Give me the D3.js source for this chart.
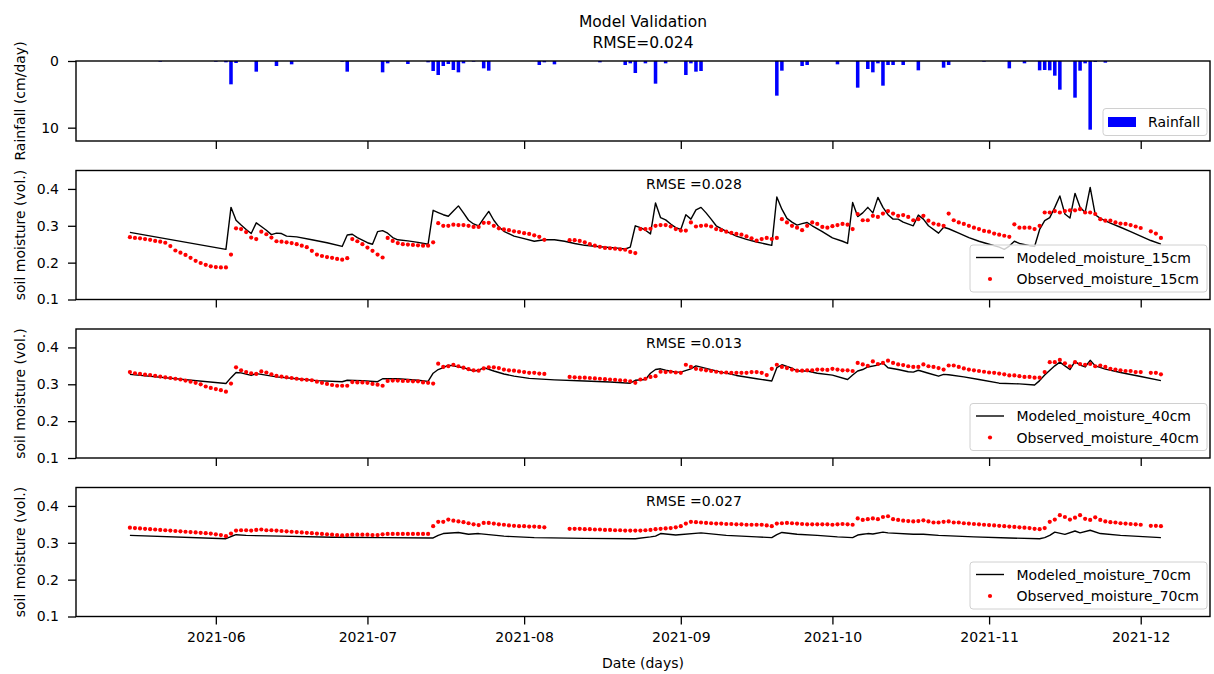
<!DOCTYPE html>
<html>
<head>
<meta charset="utf-8">
<script src="https://cdn.jsdelivr.net/npm/d3@7"></script>
<style>
  body { margin: 0; background: #fff; }
  svg text { font-family: "DejaVu Sans", sans-serif; fill: #000; }
</style>
</head>
<body>
<svg id="chart" width="1214" height="674"></svg>
<script>
// ---- data (day index 0 = 2021-05-15) ----
const seriesStart = "2021-05-15";
const monthTicks = ["2021-06-01", "2021-07-01", "2021-08-01", "2021-09-01", "2021-10-01", "2021-11-01", "2021-12-01"];

const rainDays = [6, 17, 19, 20, 21, 25, 29, 32, 42, 43, 50, 51, 55, 59, 60, 61, 62, 63, 64, 65, 66, 68, 70, 71, 81, 82, 84, 93,
  98, 99, 100, 102, 104, 106, 110, 111, 112, 113, 128, 129, 133, 134, 140, 144, 146, 147, 148, 149, 150, 151, 153, 156,
  161, 162, 169, 174, 177, 180, 181, 182, 183, 184, 187, 188, 189, 190, 191, 193];
const rainCm = [0.1, 0.1, 0.2, 3.5, 0.3, 1.6, 0.75, 0.5, 0.1, 1.6, 1.7, 0.35, 0.45, 0.2, 1.5, 2.1, 0.75, 0.45, 1.35, 1.7, 0.35, 0.1, 1.1, 1.45, 0.6, 0.2, 0.5, 0.2,
  0.6, 0.35, 1.8, 0.35, 3.4, 0.35, 2.1, 0.35, 1.6, 1.5, 5.2, 1.45, 0.75, 0.6, 0.5, 4.0, 1.2, 1.7, 0.35, 3.7, 0.6, 0.6, 0.6, 1.4,
  1.0, 0.6, 0.1, 1.1, 0.35, 1.4, 1.35, 1.4, 2.2, 4.3, 5.5, 1.45, 0.35, 10.3, 0.15, 0.25];

// modeled moisture: [day, value]
const modeled15 = [[0,0.282],[19,0.236],[20,0.350],[21,0.315],[22,0.302],[23,0.290],[24,0.279],[25,0.308],[26,0.298],[27,0.288],[28,0.276],
  [29,0.280],[30,0.279],[31,0.272],[33,0.270],[36,0.262],[39,0.254],[42,0.244],[43,0.275],[44,0.277],[45,0.268],[46,0.261],[47,0.254],
  [48,0.250],[49,0.284],[50,0.287],[51,0.280],[52,0.268],[53,0.262],[55,0.259],[57,0.255],[59,0.250],[60,0.342],[61,0.336],[62,0.330],
  [63,0.326],[64,0.340],[65,0.354],[66,0.335],[67,0.315],[68,0.305],[69,0.300],[70,0.320],[71,0.339],[72,0.315],[73,0.297],[74,0.285],
  [76,0.272],[78,0.265],[80,0.258],[82,0.262],[84,0.262],[86,0.258],[88,0.252],[90,0.247],[93,0.243],[96,0.240],[98,0.237],[99,0.242],
  [100,0.300],[101,0.295],[102,0.288],[103,0.278],[104,0.362],[105,0.322],[106,0.316],[107,0.305],[108,0.295],[109,0.290],[110,0.330],
  [111,0.318],[112,0.343],[113,0.350],[114,0.335],[115,0.318],[116,0.300],[118,0.285],[120,0.272],[122,0.263],[124,0.256],[126,0.250],
  [127,0.247],[128,0.378],[129,0.345],[130,0.320],[131,0.310],[132,0.302],[133,0.306],[134,0.309],[135,0.300],[137,0.284],[139,0.267],
  [141,0.258],[142,0.252],[143,0.363],[144,0.325],[145,0.335],[146,0.350],[147,0.335],[148,0.377],[149,0.350],[150,0.330],[151,0.318],
  [152,0.318],[153,0.310],[155,0.300],[156,0.329],[157,0.318],[158,0.300],[160,0.280],[161,0.296],[162,0.292],[164,0.280],[166,0.268],
  [168,0.258],[170,0.250],[172,0.242],[173,0.236],[174,0.245],[175,0.258],[176,0.252],[178,0.246],[179,0.244],[180,0.290],[181,0.314],
  [182,0.322],[183,0.350],[184,0.381],[185,0.332],[186,0.321],[187,0.388],[188,0.350],[189,0.336],[190,0.404],[191,0.330],[192,0.320],
  [194,0.307],[196,0.296],[198,0.284],[200,0.272],[202,0.260],[204,0.250]];

const modeled40 = [[0,0.327],[19,0.302],[20,0.318],[21,0.332],[22,0.331],[24,0.324],[25,0.329],[26,0.327],[29,0.320],[33,0.315],[37,0.310],
  [42,0.307],[43,0.311],[46,0.310],[49,0.307],[50,0.315],[53,0.315],[57,0.311],[59,0.308],[60,0.330],[61,0.340],[62,0.345],[63,0.352],
  [64,0.350],[66,0.345],[68,0.336],[69,0.338],[70,0.345],[72,0.336],[74,0.328],[76,0.322],[79,0.316],[84,0.312],[90,0.309],[95,0.306],
  [99,0.303],[100,0.311],[102,0.313],[103,0.330],[104,0.340],[105,0.342],[106,0.338],[108,0.333],[109,0.333],[111,0.342],[112,0.350],
  [114,0.343],[117,0.333],[120,0.324],[124,0.315],[127,0.309],[128,0.345],[129,0.353],[131,0.344],[132,0.336],[134,0.336],[136,0.330],
  [139,0.325],[142,0.313],[143,0.325],[144,0.336],[145,0.340],[146,0.347],[148,0.352],[149,0.358],[150,0.345],[152,0.340],[154,0.334],
  [155,0.333],[156,0.338],[158,0.330],[160,0.322],[161,0.327],[162,0.326],[165,0.320],[168,0.313],[172,0.303],[176,0.301],[179,0.298],
  [180,0.310],[181,0.325],[183,0.350],[184,0.360],[185,0.350],[186,0.340],[187,0.362],[188,0.352],[189,0.347],[190,0.365],[191,0.350],
  [193,0.341],[196,0.332],[200,0.321],[204,0.310]];

const modeled70 = [[0,0.320],[19,0.311],[20,0.317],[21,0.322],[23,0.320],[30,0.318],[40,0.315],[50,0.314],[60,0.313],[61,0.320],[62,0.325],
  [65,0.328],[67,0.323],[69,0.325],[71,0.322],[74,0.318],[80,0.314],[90,0.312],[100,0.311],[103,0.316],[104,0.318],[105,0.325],[108,0.321],
  [113,0.327],[118,0.320],[124,0.316],[127,0.314],[128,0.322],[129,0.328],[132,0.323],[136,0.320],[140,0.316],[143,0.314],[144,0.321],
  [145,0.323],[146,0.325],[147,0.324],[149,0.329],[150,0.327],[155,0.323],[157,0.323],[160,0.320],[167,0.316],[174,0.313],[180,0.311],
  [181,0.314],[182,0.320],[183,0.329],[185,0.323],[187,0.332],[188,0.327],[190,0.334],[192,0.325],[196,0.320],[204,0.314]];

// observed moisture: one value per day from seriesStart, null = no reading
const observed15 = [
  0.269,0.267,0.266,0.264,0.262,0.259,0.257,0.254,0.245,0.233,
  0.227,0.221,0.213,0.205,0.199,0.194,0.190,0.188,0.187,0.187,
  0.222,0.293,0.291,0.283,0.268,0.264,0.284,0.277,0.268,0.258,
  0.257,0.255,0.253,0.250,0.246,0.242,0.232,0.222,0.218,0.215,
  0.213,0.210,0.208,0.212,0.264,0.258,0.250,0.241,0.232,0.222,
  0.214,0.267,0.259,0.253,0.250,0.249,0.248,0.247,0.246,0.246,
  0.255,0.307,0.300,0.300,0.303,0.302,0.302,0.300,0.297,0.297,
  0.308,0.308,0.300,0.293,0.290,0.288,0.285,0.283,0.280,0.278,
  0.274,0.270,0.262,null,null,null,null,0.261,0.261,0.259,
  0.255,0.250,0.246,0.243,0.240,0.239,0.238,0.236,0.235,0.229,
  0.226,0.291,0.291,0.292,0.300,0.302,0.302,0.298,0.291,0.287,
  0.287,0.309,0.298,0.300,0.301,0.298,0.291,0.288,0.284,0.281,
  0.278,0.276,0.271,0.266,0.260,0.264,0.267,0.264,0.267,0.318,
  0.309,0.300,0.295,0.288,0.300,0.309,0.305,0.297,0.295,0.299,
  0.302,0.305,0.303,0.291,0.332,0.315,0.315,0.327,0.324,0.333,
  0.340,0.333,0.327,0.329,0.324,0.315,0.318,0.327,0.314,0.306,
  0.303,0.300,0.333,0.315,0.309,0.305,0.300,0.295,0.291,0.286,
  0.284,0.279,0.276,0.273,0.270,0.304,0.295,0.295,0.295,0.291,
  0.300,0.336,0.336,0.340,0.336,0.340,0.342,0.342,0.345,0.336,
  0.336,0.332,0.318,0.314,0.314,0.309,0.306,0.305,0.302,0.298,
  0.294,null,0.285,0.279,0.267];

const observed40 = [
  0.333,0.330,0.328,0.326,0.325,0.323,0.321,0.319,0.317,0.315,
  0.313,0.310,0.307,0.304,0.300,0.294,0.290,0.287,0.284,0.280,
  0.302,0.346,0.338,0.333,0.330,0.328,0.335,0.332,0.327,0.323,
  0.321,0.319,0.317,0.315,0.313,0.312,0.311,0.307,0.304,0.301,
  0.298,0.296,0.296,0.296,0.306,0.305,0.305,0.304,0.301,0.299,
  0.296,0.309,0.310,0.310,0.309,0.309,0.308,0.308,0.305,0.304,
  0.302,0.356,0.347,0.349,0.353,0.349,0.345,0.341,0.338,0.337,
  0.343,0.346,0.346,0.344,0.340,0.338,0.337,0.335,0.333,0.331,
  0.331,0.329,0.328,null,null,null,null,0.320,0.319,0.318,
  0.318,0.317,0.316,0.315,0.314,0.313,0.312,0.311,0.310,0.308,
  0.304,0.313,0.315,0.320,0.322,0.334,0.333,0.334,0.332,0.331,
  0.353,0.347,0.342,0.340,0.338,0.336,0.334,0.332,0.332,0.331,
  0.331,0.331,0.331,0.333,0.333,0.331,0.325,0.342,0.353,0.347,
  0.344,0.340,0.337,0.337,0.338,0.338,0.340,0.340,0.339,0.342,
  0.340,0.338,0.338,0.336,0.358,0.354,0.350,0.362,0.355,0.358,
  0.364,0.358,0.354,0.352,0.349,0.347,0.347,0.354,0.349,0.347,
  0.344,0.340,0.351,0.351,0.347,0.343,0.340,0.338,0.336,0.334,
  0.332,0.331,0.329,0.327,0.324,0.324,0.322,0.320,0.320,0.318,
  0.318,0.333,0.360,0.360,0.366,0.357,0.349,0.360,0.355,0.353,
  0.355,0.349,0.351,0.347,0.342,0.340,0.338,0.336,0.336,0.333,
  0.333,null,0.331,0.331,0.327];

const observed70 = [
  0.341,0.340,0.339,0.338,0.337,0.336,0.335,0.334,0.333,0.332,
  0.331,0.330,0.329,0.328,0.327,0.326,0.325,0.323,0.321,0.318,
  0.325,0.333,0.334,0.334,0.333,0.335,0.336,0.334,0.334,0.333,
  0.332,0.331,0.330,0.329,0.328,0.327,0.326,0.325,0.324,0.323,
  0.322,0.321,0.320,0.321,0.322,0.322,0.322,0.322,0.321,0.321,
  0.323,0.324,0.324,0.324,0.324,0.324,0.324,0.324,0.324,0.324,
  0.345,0.357,0.357,0.363,0.360,0.358,0.356,0.353,0.350,0.348,
  0.354,0.354,0.352,0.350,0.349,0.347,0.346,0.345,0.345,0.344,
  0.344,0.343,0.342,null,null,null,null,0.338,0.338,0.338,
  0.337,0.337,0.336,0.336,0.335,0.335,0.334,0.334,0.333,0.333,
  0.333,0.333,0.334,0.335,0.337,0.338,0.339,0.340,0.342,0.345,
  0.352,0.357,0.356,0.355,0.354,0.353,0.352,0.352,0.351,0.351,
  0.350,0.350,0.349,0.349,0.349,0.349,0.347,0.345,0.352,0.353,
  0.354,0.353,0.352,0.351,0.350,0.350,0.350,0.350,0.350,0.349,
  0.350,0.351,0.350,0.349,0.366,0.362,0.364,0.366,0.364,0.370,
  0.372,0.364,0.362,0.360,0.359,0.358,0.359,0.361,0.358,0.355,
  0.355,0.357,0.358,0.355,0.355,0.353,0.352,0.351,0.350,0.349,
  0.348,0.347,0.346,0.345,0.344,0.343,0.342,0.341,0.340,0.338,
  0.337,0.340,0.357,0.363,0.375,0.370,0.363,0.368,0.375,0.365,
  0.362,0.369,0.362,0.358,0.356,0.355,0.353,0.352,0.351,0.350,
  0.349,null,0.346,0.346,0.345];

const moistureTicks = [0.1, 0.2, 0.3, 0.4];
const rainTicks = [0, 10];
const rmseTotal = "0.024";
const depthPanels = [
  { depth: "15cm", rmse: "0.028", modeled: modeled15, observed: observed15 },
  { depth: "40cm", rmse: "0.013", modeled: modeled40, observed: observed40 },
  { depth: "70cm", rmse: "0.027", modeled: modeled70, observed: observed70 }
];

// ---- layout ----
const svg = d3.select("#chart");
const plotLeft = 76, plotRight = 1210;
const rainBox = { top: 61, bottom: 141 };
const depthBoxes = [
  { top: 170.5, bottom: 299.5 },
  { top: 329, bottom: 458 },
  { top: 487.5, bottom: 616.5 }
];
const FONT = 14;

const day0 = d3.utcParse("%Y-%m-%d")(seriesStart).getTime();
const toDate = d => new Date(day0 + d * 86400000);

const x = d3.scaleUtc()
  .domain([new Date(Date.UTC(2021, 4, 4, 8)), new Date(Date.UTC(2021, 11, 14, 17))])
  .range([plotLeft, plotRight]);
const tickDates = monthTicks.map(d3.utcParse("%Y-%m-%d"));

function frame(box) {
  svg.append("rect")
    .attr("x", plotLeft).attr("y", box.top)
    .attr("width", plotRight - plotLeft).attr("height", box.bottom - box.top)
    .attr("fill", "none").attr("stroke", "#000").attr("stroke-width", 1.4);
}

function styleAxis(g) {
  g.select(".domain").remove();
  g.selectAll(".tick line").attr("stroke", "#000").attr("stroke-width", 1.3);
  g.selectAll(".tick text").attr("font-size", FONT).attr("font-family", "DejaVu Sans, sans-serif").attr("fill", "#000");
}

function bottomTicks(box, withLabels) {
  const ax = d3.axisBottom(x).tickValues(tickDates).tickSize(8).tickPadding(8)
    .tickFormat(withLabels ? d3.utcFormat("%Y-%m") : () => "");
  svg.append("g").attr("transform", `translate(0,${box.bottom})`).call(ax).call(styleAxis);
}

function yLabel(text, box) {
  svg.append("text")
    .attr("transform", `translate(25,${(box.top + box.bottom) / 2}) rotate(-90)`)
    .attr("text-anchor", "middle").attr("font-size", FONT).text(text);
}

// ---- title ----
svg.append("text").attr("x", (plotLeft + plotRight) / 2).attr("y", 27)
  .attr("text-anchor", "middle").attr("font-size", 15.5).text("Model Validation");
svg.append("text").attr("x", (plotLeft + plotRight) / 2).attr("y", 48)
  .attr("text-anchor", "middle").attr("font-size", 15.5).text("RMSE=" + rmseTotal);

// ---- rainfall panel (inverted axis) ----
const yRain = d3.scaleLinear().domain([0, 12]).range([rainBox.top, rainBox.bottom]);
const barW = x(toDate(0.7)) - x(toDate(0));
svg.append("g").selectAll("rect")
  .data(rainDays.map((d, i) => ({ day: d, v: rainCm[i] })))
  .join("rect")
  .attr("x", d => x(toDate(d.day)) - barW / 2)
  .attr("y", yRain(0))
  .attr("width", barW)
  .attr("height", d => yRain(d.v) - yRain(0))
  .attr("fill", "#0000ff");
frame(rainBox);
svg.append("g").attr("transform", `translate(${plotLeft},0)`)
  .call(d3.axisLeft(yRain).tickValues(rainTicks).tickSize(8).tickPadding(9).tickFormat(d3.format("d")))
  .call(styleAxis);
bottomTicks(rainBox, false);
yLabel("Rainfall (cm/day)", rainBox);

// rainfall legend
const rl = svg.append("g");
rl.append("rect").attr("x", 1103).attr("y", 108.5).attr("width", 104).attr("height", 27).attr("rx", 3)
  .attr("fill", "#fff").attr("fill-opacity", 0.8).attr("stroke", "#d0d0d0").attr("stroke-width", 1);
rl.append("rect").attr("x", 1108).attr("y", 117).attr("width", 28).attr("height", 10).attr("fill", "#0000ff");
rl.append("text").attr("x", 1148).attr("y", 127).attr("font-size", FONT).text("Rainfall");

// ---- soil moisture panels ----
depthPanels.forEach((p, i) => {
  const box = depthBoxes[i];
  const y = d3.scaleLinear().domain([0.1, 0.45]).range([box.bottom, box.top]);

  svg.append("path")
    .datum(p.modeled)
    .attr("d", d3.line().x(d => x(toDate(d[0]))).y(d => y(d[1])))
    .attr("fill", "none").attr("stroke", "#000").attr("stroke-width", 1.4).attr("stroke-linejoin", "round");

  svg.append("g").selectAll("circle")
    .data(p.observed.map((v, d) => ({ d, v })).filter(o => o.v !== null))
    .join("circle")
    .attr("cx", o => x(toDate(o.d)))
    .attr("cy", o => y(o.v))
    .attr("r", 2.1)
    .attr("fill", "#ff0000");

  frame(box);
  svg.append("g").attr("transform", `translate(${plotLeft},0)`)
    .call(d3.axisLeft(y).tickValues(moistureTicks).tickSize(8).tickPadding(9).tickFormat(d3.format(".1f")))
    .call(styleAxis);
  bottomTicks(box, i === depthPanels.length - 1);
  yLabel("soil moisture (vol.)", box);

  svg.append("text").attr("x", 646).attr("y", box.top + 18.5)
    .attr("font-size", FONT).text("RMSE =" + p.rmse);

  // legend
  const lg = svg.append("g").attr("transform", `translate(970,${box.bottom - 54.5})`);
  lg.append("rect").attr("x", 0).attr("y", 0).attr("width", 237).attr("height", 47).attr("rx", 3)
    .attr("fill", "#fff").attr("fill-opacity", 0.8).attr("stroke", "#d0d0d0").attr("stroke-width", 1);
  lg.append("line").attr("x1", 6).attr("x2", 34).attr("y1", 12.5).attr("y2", 12.5)
    .attr("stroke", "#000").attr("stroke-width", 1.4);
  lg.append("text").attr("x", 46.5).attr("y", 17.5).attr("font-size", FONT).text("Modeled_moisture_" + p.depth);
  lg.append("circle").attr("cx", 20).attr("cy", 34).attr("r", 2.1).attr("fill", "#ff0000");
  lg.append("text").attr("x", 46.5).attr("y", 39).attr("font-size", FONT).text("Observed_moisture_" + p.depth);
});

// x-axis title
svg.append("text").attr("x", (plotLeft + plotRight) / 2).attr("y", 668)
  .attr("text-anchor", "middle").attr("font-size", FONT).text("Date (days)");
</script>
</body>
</html>
